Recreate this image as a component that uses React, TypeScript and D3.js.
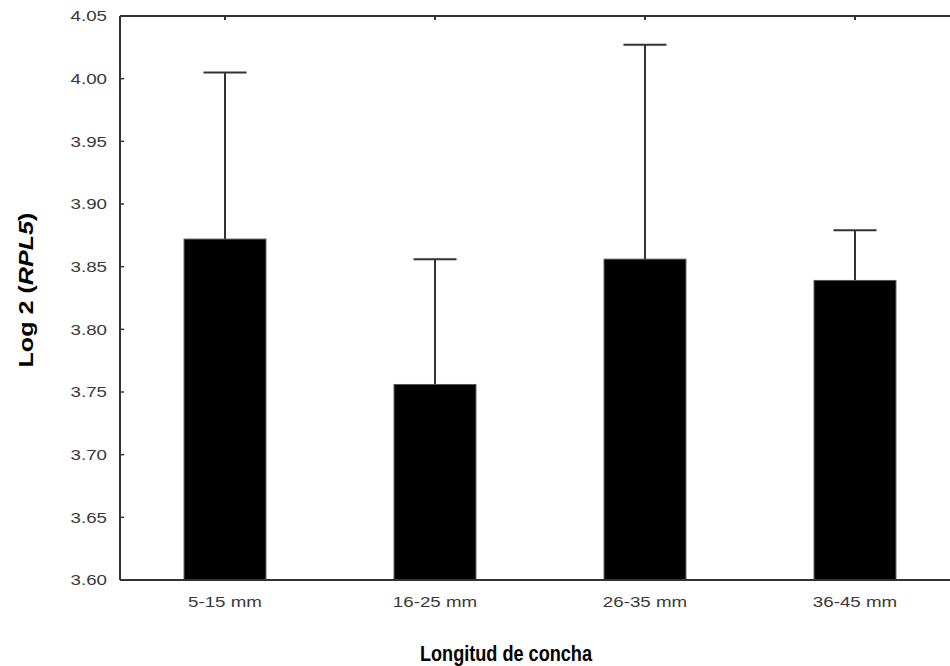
import React from "react";
import * as d3 from "d3";

// Mean Log2 expression of RPL5 by shell-length class, with upper error bars
const categories = ["5-15 mm", "16-25 mm", "26-35 mm", "36-45 mm"];
const means = [3.872, 3.756, 3.856, 3.839];
const upper = [4.005, 3.856, 4.027, 3.879];
const yTicks = [3.6, 3.65, 3.7, 3.75, 3.8, 3.85, 3.9, 3.95, 4.0, 4.05];

const W = 950;
const H = 666;
const left = 120;
const right = 960;
const top = 16;
const bottom = 580;

export default function App() {
  const x = d3.scaleBand<string>().domain(categories).range([left, right]).padding(0);
  const y = d3.scaleLinear().domain([3.6, 4.05]).range([bottom, top]);
  const barW = x.bandwidth() * 0.39;
  const capW = x.bandwidth() * 0.205;
  const axisColor = "#333";
  const font = "'Liberation Sans', Arial, sans-serif";

  return (
    <svg width={W} height={H} style={{ position: "absolute", left: 0, top: 0, background: "#fff" }}>
      {/* bars */}
      {categories.map((c, i) => {
        const cx = x(c)! + x.bandwidth() / 2;
        return (
          <g key={c}>
            <line x1={cx} x2={cx} y1={y(means[i])} y2={y(upper[i])} stroke="#333" strokeWidth={2} />
            <line x1={cx - capW / 2} x2={cx + capW / 2} y1={y(upper[i])} y2={y(upper[i])} stroke="#333" strokeWidth={2} />
            <rect x={cx - barW / 2} y={y(means[i])} width={barW} height={bottom - y(means[i])} fill="#000" stroke="#555" strokeWidth={1} />
          </g>
        );
      })}
      {/* frame */}
      <line x1={left} x2={right} y1={top} y2={top} stroke={axisColor} strokeWidth={2} />
      <line x1={left} x2={right} y1={bottom} y2={bottom} stroke={axisColor} strokeWidth={2} />
      <line x1={left} x2={left} y1={top} y2={bottom} stroke={axisColor} strokeWidth={2} />
      {/* top ticks at category centers */}
      {categories.map((c) => {
        const cx = x(c)! + x.bandwidth() / 2;
        return <line key={"t" + c} x1={cx} x2={cx} y1={top} y2={top + 4} stroke={axisColor} strokeWidth={2} />;
      })}
      {/* y ticks and labels */}
      {yTicks.map((t) => (
        <g key={t}>
          <line x1={left} x2={left + 4} y1={y(t)} y2={y(t)} stroke={axisColor} strokeWidth={1.5} />
          <text
            x={107}
            y={y(t)}
            dy="0.36em"
            textAnchor="end"
            fontFamily={font}
            fontSize={15}
            fill="#3a3a3a"
            transform={`translate(107,0) scale(1.25,1) translate(-107,0)`}
          >
            {t.toFixed(2)}
          </text>
        </g>
      ))}
      {/* x labels */}
      {categories.map((c) => {
        const cx = x(c)! + x.bandwidth() / 2;
        return (
          <text
            key={"l" + c}
            x={cx}
            y={607}
            textAnchor="middle"
            fontFamily={font}
            fontSize={15}
            fill="#3a3a3a"
            transform={`translate(${cx},0) scale(1.25,1) translate(${-cx},0)`}
          >
            {c}
          </text>
        );
      })}
      {/* axis titles */}
      <text
        x={506}
        y={661}
        textAnchor="middle"
        fontFamily={font}
        fontWeight="bold"
        fontSize={22}
        fill="#000"
        textLength={172}
        lengthAdjust="spacingAndGlyphs"
      >
        Longitud de concha
      </text>
      <text
        transform={`translate(33,290) rotate(-90)`}
        textAnchor="middle"
        fontFamily={font}
        fontWeight="bold"
        fontSize={21}
        fill="#000"
        textLength={155}
        lengthAdjust="spacingAndGlyphs"
      >
        Log 2 (<tspan fontStyle="italic">RPL5</tspan>)
      </text>
    </svg>
  );
}
